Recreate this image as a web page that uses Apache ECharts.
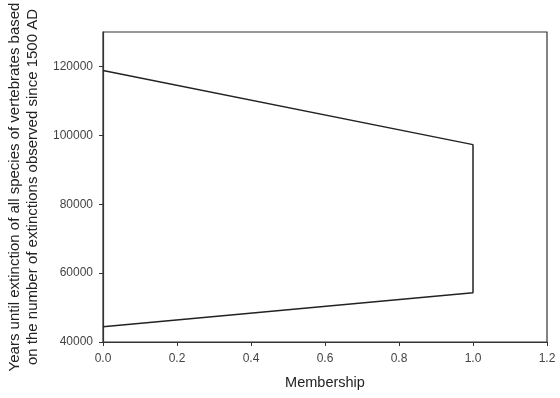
<!DOCTYPE html>
<html>
<head>
<meta charset="utf-8">
<script src="https://cdn.jsdelivr.net/npm/echarts@6/dist/echarts.min.js"></script>
<style>
  html, body { margin: 0; padding: 0; background: #fff; }
  #chart { width: 560px; height: 398px; }
</style>
</head>
<body>
<div id="chart"></div>
<script>
// Membership (x) and years until extinction (y) around the closed outline
const membership = [0, 1, 1, 0];
const yearsUntilExtinction = [118800, 97300, 54300, 44450];
const xTicks = [0, 0.2, 0.4, 0.6, 0.8, 1.0, 1.2];
const yTicks = [40000, 60000, 80000, 100000, 120000];

const chart = echarts.init(document.getElementById('chart'), null, { renderer: 'canvas' });
const font = '"Liberation Sans", Arial, sans-serif';
const axisColor = '#333';

chart.setOption({
  animation: false,
  backgroundColor: '#fff',
  grid: {
    left: 103, right: 13, top: 32, bottom: 56,
    outerBoundsMode: 'none', containLabel: false,
    show: true, borderColor: axisColor, borderWidth: 1.2, backgroundColor: 'transparent'
  },
  xAxis: {
    type: 'value',
    min: xTicks[0], max: xTicks[xTicks.length - 1], interval: 0.2,
    name: 'Membership', nameLocation: 'middle', nameGap: 33,
    nameTextStyle: { fontFamily: font, fontSize: 14.5, color: '#222' },
    axisLine: { show: true, lineStyle: { color: axisColor, width: 1.2 } },
    axisTick: { show: true, inside: false, length: 4, lineStyle: { color: axisColor } },
    axisLabel: { fontFamily: font, fontSize: 12, color: '#444', margin: 11,
      formatter: v => v.toFixed(1) },
    splitLine: { show: false }
  },
  yAxis: {
    type: 'value',
    min: yTicks[0], max: 130000, interval: 20000,
    name: 'Years until extinction of all species of vertebrates based\non the number of extinctions observed since 1500 AD',
    nameLocation: 'middle', nameGap: 56, nameRotate: 90,
    nameTextStyle: { fontFamily: font, fontSize: 15, color: '#222', lineHeight: 18 },
    axisLine: { show: true, lineStyle: { color: axisColor, width: 1.2 } },
    axisTick: { show: true, inside: false, length: 4, lineStyle: { color: axisColor } },
    axisLabel: { fontFamily: font, fontSize: 12, color: '#444', margin: 10,
      showMaxLabel: false,
      formatter: v => (yTicks.indexOf(v) >= 0 ? String(v) : '') },
    splitLine: { show: false }
  },
  series: [{
    type: 'line',
    data: membership.map((m, i) => [m, yearsUntilExtinction[i]]),
    showSymbol: false,
    lineStyle: { color: '#222', width: 1.5 },
    silent: true
  }]
});
</script>
</body>
</html>
